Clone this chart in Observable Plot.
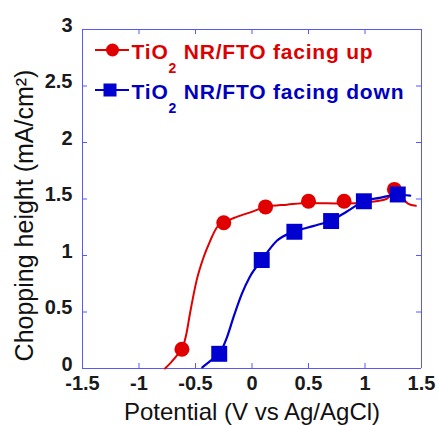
<!DOCTYPE html>
<html><head><meta charset="utf-8">
<script src="https://cdn.jsdelivr.net/npm/d3@7"></script>
<script src="https://cdn.jsdelivr.net/npm/@observablehq/plot@0.6"></script>
<style>
body{margin:0;background:#fff;}
#chart{position:relative;width:438px;height:425px;}
</style>
</head><body><div id="chart"></div>
<script>
// Facing up (red): measured curve and markers
const upCurveV = [-0.77,-0.72,-0.66,-0.62,-0.58,-0.55,-0.49,-0.43,-0.37,-0.31,-0.25,-0.14,0.01,0.12,0.31,0.50,0.82,1.01,1.19,1.26,1.32,1.38,1.45];
const upCurveJ = [0.00,0.05,0.12,0.17,0.31,0.48,0.78,0.98,1.13,1.25,1.29,1.34,1.39,1.43,1.45,1.465,1.46,1.47,1.50,1.56,1.52,1.46,1.44];
const upMarkV = [-0.62,-0.25,0.12,0.50,0.815,1.26];
const upMarkJ = [0.17,1.29,1.43,1.48,1.48,1.585];
// Facing down (blue)
const downCurveV = [-0.44,-0.34,-0.29,-0.22,-0.165,-0.09,-0.02,0.086,0.22,0.37,0.54,0.70,0.84,0.99,1.13,1.29,1.40];
const downCurveJ = [0.01,0.09,0.13,0.28,0.45,0.66,0.81,0.96,1.13,1.21,1.26,1.31,1.39,1.48,1.51,1.54,1.53];
const downMarkV = [-0.29,0.086,0.375,0.70,0.99,1.29];
const downMarkJ = [0.13,0.96,1.21,1.305,1.48,1.54];

const xTicks = [-1.5,-1,-0.5,0,0.5,1,1.5];
const yTicks = [0,0.5,1,1.5,2,2.5,3];
const xInner = xTicks.slice(1, -1);
const yInner = yTicks.slice(1, -1);
const xEdges = [xTicks[0], xTicks[xTicks.length - 1]];
const yEdges = [yTicks[0], yTicks[yTicks.length - 1]];
const xLabel = "Potential (V vs Ag/AgCl)";
const yLabel = "Chopping height (mA/cm²)";
const seriesNames = ["facing up","facing down"];

const RED = "#e00000", BLUE = "#0000d0", FRAME = "#5858f8";
const toRows = (vs, js) => vs.map((v,i)=>({v, j: js[i]}));
const upCurve = toRows(upCurveV, upCurveJ), upMarks = toRows(upMarkV, upMarkJ);
const downCurve = toRows(downCurveV, downCurveJ), downMarks = toRows(downMarkV, downMarkJ);

const innerH = 425 - 29 - 57, innerW = 438 - 82 - 17;

const svg = Plot.plot({
  width: 438, height: 425,
  marginLeft: 82, marginRight: 17, marginTop: 29, marginBottom: 57,
  style: {fontFamily: "'Liberation Sans', Arial, sans-serif", background: "white", overflow: "visible"},
  x: {domain: xEdges},
  y: {domain: yEdges},
  marks: [
    Plot.axisX({ticks: xTicks, tickFormat: d => String(d), tickSize: 0, tickPadding: 7, fontSize: 20, fontWeight: "bold", fill: "#1a1a1a", stroke: "none", label: null}),
    Plot.axisY({ticks: yTicks, tickFormat: d => String(d), tickSize: 0, tickPadding: 10, dy: -4, fontSize: 20, fontWeight: "bold", fill: "#1a1a1a", stroke: "none", label: null}),
    Plot.ruleX(xInner, {x: d => d, insetTop: innerH - 5, stroke: FRAME}),
    Plot.ruleX(xInner, {x: d => d, insetBottom: innerH - 5, stroke: FRAME}),
    Plot.ruleY(yInner, {y: d => d, insetRight: innerW - 5, stroke: FRAME}),
    Plot.ruleY(yInner, {y: d => d, insetLeft: innerW - 5, stroke: FRAME}),
    Plot.ruleX(xEdges, {x: d => d, stroke: FRAME, strokeWidth: 1}),
    Plot.ruleY(yEdges, {y: d => d, stroke: FRAME, strokeWidth: 1}),
    Plot.line(upCurve, {x: "v", y: "j", stroke: RED, strokeWidth: 2, curve: "monotone-x"}),
    Plot.dot(upMarks, {x: "v", y: "j", r: 7.5, fill: RED, stroke: null}),
    Plot.line(downCurve, {x: "v", y: "j", stroke: BLUE, strokeWidth: 2.2, curve: "monotone-x"}),
    Plot.dot(downMarks, {x: "v", y: "j", r: 9, symbol: "square", fill: BLUE, stroke: null}),
    Plot.text([xLabel], {text: d => d, frameAnchor: "bottom", dy: 43.5, fontSize: 24, lineAnchor: "middle", textAnchor: "middle", fill: "#111"}),
    Plot.text([yLabel], {text: d => d, frameAnchor: "left", rotate: -90, dx: -58, dy: 16.5, fontSize: 25, lineAnchor: "middle", textAnchor: "middle", fill: "#111"})
  ]
});
document.getElementById("chart").appendChild(svg);

// Legend (inside the plot, top-left)
const leg = d3.select(svg).append("g").attr("font-family", "'Liberation Sans', Arial, sans-serif").attr("font-weight", "bold").attr("text-anchor", "start");
const rows = [
  {name: seriesNames[0], color: RED, text: "#dd0000", cy: 50, sym: "circle"},
  {name: seriesNames[1], color: BLUE, text: "#0000c0", cy: 90, sym: "square"}
];
rows.forEach(r => {
  leg.append("line").attr("x1", 95).attr("x2", 129).attr("y1", r.cy).attr("y2", r.cy).attr("stroke", r.color).attr("stroke-width", 2);
  if (r.sym === "circle") leg.append("circle").attr("cx", 112.5).attr("cy", r.cy).attr("r", 6.5).attr("fill", r.color);
  else leg.append("rect").attr("x", 103.5).attr("y", r.cy - 6.5).attr("width", 13).attr("height", 13).attr("fill", r.color);
  const t = leg.append("text").attr("x", 131.5).attr("y", r.cy + 8.5).attr("fill", r.text).attr("font-size", 21).attr("letter-spacing", 0.8).attr("text-anchor", "start");
  t.append("tspan").text("TiO");
  t.append("tspan").attr("font-size", 14).attr("dy", 14).text("2");
  t.append("tspan").attr("dy", -14).text(" NR/FTO " + r.name);
});
</script>
</body></html>
